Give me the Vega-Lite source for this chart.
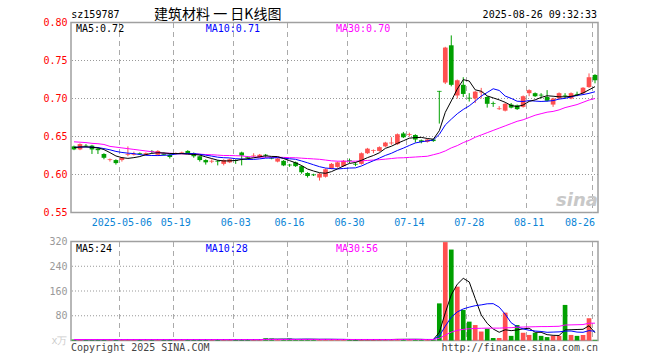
{
  "$schema": "https://vega.github.io/schema/vega-lite/v6.json",
  "background": "white",
  "padding": {"left": 42, "top": 6.5, "right": 63, "bottom": 9},
  "spacing": 29,
  "bounds": "flush",
  "config": {
    "view": {"stroke": "#a0a0a0", "strokeWidth": 1.5},
    "axis": {"labelFont": "DejaVu Sans Mono", "labelFontSize": 10, "ticks": false, "domain": false, "labelAngle": 0},
    "text": {"font": "DejaVu Sans Mono", "fontSize": 10},
    "line": {"strokeWidth": 1}
  },
  "datasets": {
    "k": [
      {"d":"2025-04-21","o":0.637,"h":0.638,"l":0.632,"c":0.633,"v":3,"m5":0.6354,"m10":0.6357,"m30":0.643,"vm5":3,"vm10":3,"vm30":3},
      {"d":"2025-04-22","o":0.633,"h":0.641,"l":0.632,"c":0.640,"v":3,"m5":0.6362,"m10":0.6361,"m30":0.6425,"vm5":3,"vm10":3,"vm30":3},
      {"d":"2025-04-23","o":0.638,"h":0.640,"l":0.636,"c":0.637,"v":2,"m5":0.6364,"m10":0.6362,"m30":0.642,"vm5":3,"vm10":3,"vm30":3},
      {"d":"2025-04-24","o":0.638,"h":0.639,"l":0.627,"c":0.633,"v":3,"m5":0.6358,"m10":0.6359,"m30":0.641,"vm5":3,"vm10":3,"vm30":3},
      {"d":"2025-04-25","o":0.634,"h":0.635,"l":0.627,"c":0.632,"v":2,"m5":0.635,"m10":0.6355,"m30":0.6405,"vm5":3,"vm10":3,"vm30":3},
      {"d":"2025-04-28","o":0.627,"h":0.628,"l":0.620,"c":0.622,"v":3,"m5":0.6328,"m10":0.6341,"m30":0.6395,"vm5":3,"vm10":3,"vm30":3},
      {"d":"2025-04-29","o":0.619,"h":0.621,"l":0.617,"c":0.620,"v":2,"m5":0.6288,"m10":0.6325,"m30":0.637,"vm5":3,"vm10":3,"vm30":3},
      {"d":"2025-04-30","o":0.619,"h":0.620,"l":0.613,"c":0.615,"v":3,"m5":0.6244,"m10":0.6304,"m30":0.636,"vm5":3,"vm10":3,"vm30":3},
      {"d":"2025-05-06","o":0.619,"h":0.623,"l":0.617,"c":0.622,"v":3,"m5":0.6222,"m10":0.629,"m30":0.635,"vm5":3,"vm10":3,"vm30":3},
      {"d":"2025-05-07","o":0.626,"h":0.637,"l":0.624,"c":0.627,"v":4,"m5":0.6212,"m10":0.6281,"m30":0.634,"vm5":3,"vm10":3,"vm30":3},
      {"d":"2025-05-08","o":0.626,"h":0.630,"l":0.625,"c":0.627,"v":2,"m5":0.6222,"m10":0.6275,"m30":0.633,"vm5":3,"vm10":3,"vm30":3},
      {"d":"2025-05-09","o":0.628,"h":0.629,"l":0.626,"c":0.627,"v":2,"m5":0.6236,"m10":0.6262,"m30":0.632,"vm5":3,"vm10":3,"vm30":3},
      {"d":"2025-05-12","o":0.626,"h":0.629,"l":0.626,"c":0.628,"v":2,"m5":0.6262,"m10":0.6253,"m30":0.631,"vm5":3,"vm10":3,"vm30":3},
      {"d":"2025-05-13","o":0.631,"h":0.632,"l":0.628,"c":0.630,"v":2,"m5":0.6278,"m10":0.625,"m30":0.630,"vm5":3,"vm10":3,"vm30":3},
      {"d":"2025-05-14","o":0.626,"h":0.632,"l":0.625,"c":0.631,"v":3,"m5":0.6286,"m10":0.6249,"m30":0.629,"vm5":3,"vm10":3,"vm30":3},
      {"d":"2025-05-15","o":0.628,"h":0.629,"l":0.625,"c":0.626,"v":2,"m5":0.6284,"m10":0.6253,"m30":0.628,"vm5":3,"vm10":3,"vm30":3},
      {"d":"2025-05-16","o":0.626,"h":0.627,"l":0.621,"c":0.623,"v":2,"m5":0.6276,"m10":0.6256,"m30":0.628,"vm5":3,"vm10":3,"vm30":3},
      {"d":"2025-05-19","o":0.627,"h":0.629,"l":0.626,"c":0.628,"v":2,"m5":0.6276,"m10":0.6269,"m30":0.6275,"vm5":3,"vm10":3,"vm30":3},
      {"d":"2025-05-20","o":0.628,"h":0.630,"l":0.627,"c":0.629,"v":2,"m5":0.6274,"m10":0.6276,"m30":0.6272,"vm5":3,"vm10":3,"vm30":3},
      {"d":"2025-05-21","o":0.631,"h":0.632,"l":0.627,"c":0.628,"v":2,"m5":0.6268,"m10":0.6277,"m30":0.627,"vm5":3,"vm10":3,"vm30":3},
      {"d":"2025-05-22","o":0.628,"h":0.629,"l":0.622,"c":0.624,"v":2,"m5":0.6264,"m10":0.6274,"m30":0.627,"vm5":3,"vm10":3,"vm30":3},
      {"d":"2025-05-23","o":0.624,"h":0.625,"l":0.617,"c":0.619,"v":3,"m5":0.6256,"m10":0.6266,"m30":0.6268,"vm5":3,"vm10":3,"vm30":3},
      {"d":"2025-05-26","o":0.619,"h":0.620,"l":0.613,"c":0.616,"v":3,"m5":0.6232,"m10":0.6254,"m30":0.6262,"vm5":3,"vm10":3,"vm30":3},
      {"d":"2025-05-27","o":0.617,"h":0.620,"l":0.615,"c":0.618,"v":2,"m5":0.621,"m10":0.6242,"m30":0.626,"vm5":3,"vm10":3,"vm30":3},
      {"d":"2025-05-28","o":0.618,"h":0.619,"l":0.612,"c":0.617,"v":3,"m5":0.6188,"m10":0.6228,"m30":0.6255,"vm5":3,"vm10":3,"vm30":3},
      {"d":"2025-05-29","o":0.614,"h":0.620,"l":0.612,"c":0.619,"v":3,"m5":0.6178,"m10":0.6221,"m30":0.625,"vm5":3,"vm10":3,"vm30":3},
      {"d":"2025-05-30","o":0.616,"h":0.621,"l":0.615,"c":0.620,"v":3,"m5":0.618,"m10":0.6218,"m30":0.625,"vm5":3,"vm10":3,"vm30":3},
      {"d":"2025-06-03","o":0.619,"h":0.620,"l":0.614,"c":0.618,"v":2,"m5":0.6184,"m10":0.6208,"m30":0.6247,"vm5":3,"vm10":3,"vm30":3},
      {"d":"2025-06-04","o":0.629,"h":0.630,"l":0.612,"c":0.625,"v":4,"m5":0.6198,"m10":0.6204,"m30":0.6245,"vm5":3,"vm10":3,"vm30":3},
      {"d":"2025-06-05","o":0.623,"h":0.624,"l":0.620,"c":0.622,"v":3,"m5":0.6208,"m10":0.6198,"m30":0.6235,"vm5":3,"vm10":3,"vm30":3},
      {"d":"2025-06-06","o":0.624,"h":0.628,"l":0.623,"c":0.625,"v":2,"m5":0.622,"m10":0.6199,"m30":0.623,"vm5":3,"vm10":3,"vm30":3},
      {"d":"2025-06-09","o":0.623,"h":0.627,"l":0.622,"c":0.626,"v":3,"m5":0.6232,"m10":0.6206,"m30":0.6228,"vm5":3,"vm10":3,"vm30":3},
      {"d":"2025-06-10","o":0.626,"h":0.627,"l":0.622,"c":0.625,"v":7,"m5":0.6246,"m10":0.6215,"m30":0.6228,"vm5":3.8,"vm10":3.4,"vm30":3.1},
      {"d":"2025-06-11","o":0.622,"h":0.623,"l":0.620,"c":0.621,"v":6,"m5":0.6238,"m10":0.6218,"m30":0.6228,"vm5":4.2,"vm10":3.6,"vm30":3.2},
      {"d":"2025-06-12","o":0.617,"h":0.622,"l":0.616,"c":0.621,"v":3,"m5":0.6236,"m10":0.6222,"m30":0.6228,"vm5":4.2,"vm10":3.7,"vm30":3.2},
      {"d":"2025-06-13","o":0.618,"h":0.619,"l":0.611,"c":0.612,"v":3,"m5":0.621,"m10":0.6215,"m30":0.6225,"vm5":4.4,"vm10":3.8,"vm30":3.2},
      {"d":"2025-06-16","o":0.613,"h":0.614,"l":0.610,"c":0.612,"v":6,"m5":0.6182,"m10":0.6207,"m30":0.6222,"vm5":4.2,"vm10":4,"vm30":3.3},
      {"d":"2025-06-17","o":0.616,"h":0.617,"l":0.610,"c":0.611,"v":3,"m5":0.6154,"m10":0.62,"m30":0.622,"vm5":3.6,"vm10":3.9,"vm30":3.3},
      {"d":"2025-06-18","o":0.611,"h":0.612,"l":0.601,"c":0.603,"v":4,"m5":0.6118,"m10":0.6178,"m30":0.6215,"vm5":3.8,"vm10":4,"vm30":3.3},
      {"d":"2025-06-19","o":0.602,"h":0.603,"l":0.596,"c":0.598,"v":4,"m5":0.6072,"m10":0.6154,"m30":0.621,"vm5":4,"vm10":4.1,"vm30":3.3},
      {"d":"2025-06-20","o":0.600,"h":0.601,"l":0.598,"c":0.599,"v":3,"m5":0.6046,"m10":0.6128,"m30":0.6205,"vm5":4,"vm10":3.8,"vm30":3.3},
      {"d":"2025-06-23","o":0.596,"h":0.602,"l":0.592,"c":0.601,"v":4,"m5":0.6024,"m10":0.6103,"m30":0.620,"vm5":3.6,"vm10":3.8,"vm30":3.3},
      {"d":"2025-06-24","o":0.597,"h":0.608,"l":0.596,"c":0.607,"v":4,"m5":0.6016,"m10":0.6085,"m30":0.619,"vm5":3.8,"vm10":3.7,"vm30":3.3},
      {"d":"2025-06-25","o":0.608,"h":0.615,"l":0.607,"c":0.614,"v":3,"m5":0.6038,"m10":0.6078,"m30":0.618,"vm5":3.6,"vm10":3.8,"vm30":3.3},
      {"d":"2025-06-26","o":0.610,"h":0.617,"l":0.609,"c":0.616,"v":3,"m5":0.6074,"m10":0.6073,"m30":0.6175,"vm5":3.4,"vm10":3.7,"vm30":3.3},
      {"d":"2025-06-27","o":0.611,"h":0.619,"l":0.610,"c":0.618,"v":3,"m5":0.6112,"m10":0.6079,"m30":0.6175,"vm5":3.4,"vm10":3.5,"vm30":3.3},
      {"d":"2025-06-30","o":0.619,"h":0.621,"l":0.615,"c":0.618,"v":2,"m5":0.6146,"m10":0.6085,"m30":0.6175,"vm5":3,"vm10":3.3,"vm30":3.3},
      {"d":"2025-07-01","o":0.614,"h":0.616,"l":0.611,"c":0.613,"v":2,"m5":0.6158,"m10":0.6087,"m30":0.6175,"vm5":2.6,"vm10":3.1,"vm30":3.3},
      {"d":"2025-07-02","o":0.614,"h":0.629,"l":0.613,"c":0.628,"v":4,"m5":0.6186,"m10":0.6112,"m30":0.618,"vm5":2.8,"vm10":3.1,"vm30":3.3},
      {"d":"2025-07-03","o":0.628,"h":0.635,"l":0.627,"c":0.634,"v":3,"m5":0.6222,"m10":0.6148,"m30":0.6185,"vm5":2.8,"vm10":3.1,"vm30":3.3},
      {"d":"2025-07-04","o":0.631,"h":0.633,"l":0.628,"c":0.632,"v":3,"m5":0.625,"m10":0.6181,"m30":0.619,"vm5":2.8,"vm10":3.1,"vm30":3.3},
      {"d":"2025-07-07","o":0.631,"h":0.637,"l":0.630,"c":0.636,"v":3,"m5":0.6286,"m10":0.6216,"m30":0.6195,"vm5":3,"vm10":3,"vm30":3.3},
      {"d":"2025-07-08","o":0.637,"h":0.643,"l":0.636,"c":0.642,"v":3,"m5":0.6344,"m10":0.6251,"m30":0.6202,"vm5":3.2,"vm10":2.9,"vm30":3.3},
      {"d":"2025-07-09","o":0.641,"h":0.649,"l":0.639,"c":0.642,"v":4,"m5":0.6372,"m10":0.6279,"m30":0.621,"vm5":3.2,"vm10":3,"vm30":3.3},
      {"d":"2025-07-10","o":0.640,"h":0.654,"l":0.639,"c":0.653,"v":5,"m5":0.641,"m10":0.6316,"m30":0.6218,"vm5":3.6,"vm10":3.2,"vm30":3.3},
      {"d":"2025-07-11","o":0.654,"h":0.656,"l":0.648,"c":0.649,"v":4,"m5":0.6444,"m10":0.6347,"m30":0.622,"vm5":3.8,"vm10":3.3,"vm30":3.3},
      {"d":"2025-07-14","o":0.652,"h":0.655,"l":0.650,"c":0.653,"v":3,"m5":0.6478,"m10":0.6382,"m30":0.6225,"vm5":3.8,"vm10":3.4,"vm30":3.3},
      {"d":"2025-07-15","o":0.652,"h":0.653,"l":0.642,"c":0.646,"v":3,"m5":0.6486,"m10":0.6415,"m30":0.623,"vm5":3.8,"vm10":3.5,"vm30":3.3},
      {"d":"2025-07-16","o":0.645,"h":0.646,"l":0.641,"c":0.643,"v":3,"m5":0.6488,"m10":0.643,"m30":0.6235,"vm5":3.6,"vm10":3.4,"vm30":3.3},
      {"d":"2025-07-17","o":0.643,"h":0.647,"l":0.642,"c":0.646,"v":2,"m5":0.6474,"m10":0.6442,"m30":0.624,"vm5":3,"vm10":3.3,"vm30":3.3},
      {"d":"2025-07-18","o":0.646,"h":0.647,"l":0.643,"c":0.644,"v":3,"m5":0.6464,"m10":0.6454,"m30":0.626,"vm5":2.8,"vm10":3.3,"vm30":3.3},
      {"d":"2025-07-21","o":0.710,"h":0.710,"l":0.667,"c":0.709,"v":120,"m5":0.6576,"m10":0.6527,"m30":0.628,"vm5":26.4,"vm10":14.7,"vm30":6.9},
      {"d":"2025-07-22","o":0.721,"h":0.768,"l":0.719,"c":0.767,"v":318,"m5":0.6818,"m10":0.6652,"m30":0.631,"vm5":89.4,"vm10":46.2,"vm30":17.4},
      {"d":"2025-07-23","o":0.770,"h":0.783,"l":0.716,"c":0.718,"v":294,"m5":0.6968,"m10":0.6728,"m30":0.635,"vm5":147.6,"vm10":75.3,"vm30":27.1},
      {"d":"2025-07-24","o":0.704,"h":0.725,"l":0.700,"c":0.724,"v":174,"m5":0.7124,"m10":0.6799,"m30":0.638,"vm5":181.8,"vm10":92.4,"vm30":32.8},
      {"d":"2025-07-25","o":0.718,"h":0.728,"l":0.702,"c":0.706,"v":99,"m5":0.7248,"m10":0.6856,"m30":0.642,"vm5":201,"vm10":102,"vm30":36},
      {"d":"2025-07-28","o":0.701,"h":0.707,"l":0.696,"c":0.700,"v":61,"m5":0.723,"m10":0.6903,"m30":0.645,"vm5":189.2,"vm10":107.8,"vm30":37.9},
      {"d":"2025-07-29","o":0.700,"h":0.710,"l":0.694,"c":0.709,"v":50,"m5":0.7114,"m10":0.6966,"m30":0.649,"vm5":135.6,"vm10":112.5,"vm30":39},
      {"d":"2025-07-30","o":0.708,"h":0.714,"l":0.700,"c":0.709,"v":29,"m5":0.7096,"m10":0.7032,"m30":0.652,"vm5":82.6,"vm10":115.1,"vm30":39.5},
      {"d":"2025-07-31","o":0.702,"h":0.703,"l":0.688,"c":0.693,"v":38,"m5":0.7034,"m10":0.7079,"m30":0.655,"vm5":55.4,"vm10":118.6,"vm30":40},
      {"d":"2025-08-01","o":0.694,"h":0.696,"l":0.689,"c":0.693,"v":8,"m5":0.7008,"m10":0.7128,"m30":0.658,"vm5":37.2,"vm10":119.1,"vm30":40},
      {"d":"2025-08-04","o":0.686,"h":0.690,"l":0.685,"c":0.687,"v":8,"m5":0.6982,"m10":0.7106,"m30":0.661,"vm5":26.6,"vm10":107.9,"vm30":40},
      {"d":"2025-08-05","o":0.684,"h":0.694,"l":0.683,"c":0.693,"v":90,"m5":0.695,"m10":0.7032,"m30":0.664,"vm5":34.6,"vm10":85.1,"vm30":41},
      {"d":"2025-08-06","o":0.692,"h":0.694,"l":0.687,"c":0.688,"v":15,"m5":0.6908,"m10":0.7002,"m30":0.667,"vm5":31.8,"vm10":57.2,"vm30":41.5},
      {"d":"2025-08-07","o":0.691,"h":0.692,"l":0.685,"c":0.686,"v":50,"m5":0.6894,"m10":0.6964,"m30":0.670,"vm5":34.2,"vm10":44.8,"vm30":43},
      {"d":"2025-08-08","o":0.689,"h":0.704,"l":0.688,"c":0.703,"v":25,"m5":0.6914,"m10":0.6961,"m30":0.672,"vm5":37.6,"vm10":37.4,"vm30":43.5},
      {"d":"2025-08-11","o":0.707,"h":0.712,"l":0.703,"c":0.711,"v":18,"m5":0.6962,"m10":0.6972,"m30":0.675,"vm5":39.6,"vm10":33.1,"vm30":44},
      {"d":"2025-08-12","o":0.707,"h":0.708,"l":0.702,"c":0.703,"v":25,"m5":0.6982,"m10":0.6966,"m30":0.678,"vm5":26.6,"vm10":30.6,"vm30":44.5},
      {"d":"2025-08-13","o":0.705,"h":0.707,"l":0.700,"c":0.704,"v":15,"m5":0.7014,"m10":0.6961,"m30":0.680,"vm5":26.6,"vm10":29.2,"vm30":45},
      {"d":"2025-08-14","o":0.702,"h":0.711,"l":0.696,"c":0.697,"v":11,"m5":0.7036,"m10":0.6965,"m30":0.682,"vm5":18.8,"vm10":26.5,"vm30":45},
      {"d":"2025-08-15","o":0.692,"h":0.701,"l":0.689,"c":0.700,"v":15,"m5":0.703,"m10":0.6972,"m30":0.683,"vm5":16.8,"vm10":27.2,"vm30":45.5},
      {"d":"2025-08-18","o":0.700,"h":0.708,"l":0.699,"c":0.707,"v":15,"m5":0.7022,"m10":0.6992,"m30":0.685,"vm5":16.2,"vm10":27.9,"vm30":46},
      {"d":"2025-08-19","o":0.704,"h":0.707,"l":0.700,"c":0.703,"v":115,"m5":0.7022,"m10":0.7002,"m30":0.688,"vm5":34.2,"vm10":30.4,"vm30":50},
      {"d":"2025-08-20","o":0.700,"h":0.708,"l":0.699,"c":0.707,"v":18,"m5":0.7028,"m10":0.7021,"m30":0.690,"vm5":34.8,"vm10":30.7,"vm30":50.5},
      {"d":"2025-08-21","o":0.706,"h":0.709,"l":0.703,"c":0.705,"v":15,"m5":0.7044,"m10":0.704,"m30":0.692,"vm5":35.6,"vm10":27.2,"vm30":51},
      {"d":"2025-08-22","o":0.707,"h":0.715,"l":0.706,"c":0.714,"v":18,"m5":0.7072,"m10":0.7051,"m30":0.695,"vm5":36.2,"vm10":26.5,"vm30":51.5},
      {"d":"2025-08-25","o":0.715,"h":0.733,"l":0.714,"c":0.728,"v":72,"m5":0.7114,"m10":0.7068,"m30":0.698,"vm5":47.6,"vm10":31.9,"vm30":56},
      {"d":"2025-08-26","o":0.731,"h":0.732,"l":0.720,"c":0.724,"v":2,"m5":0.7156,"m10":0.7089,"m30":0.700,"vm5":25,"vm10":29.6,"vm30":56}
    ]
  },
  "vconcat": [
    {
      "width": 527,
      "height": 190,
      "data": {"name": "k"},
      "resolve": {"axis": {"x": "independent", "y": "independent"}},
      "layer": [
        {
          "data": {"values": [{}]},
          "mark": {"type": "rule", "color": "#999999", "strokeDash": [1, 2], "strokeWidth": 1},
          "encoding": {"y": {"datum": 0.6, "type": "quantitative", "axis": null, "scale": {"domain": [0.55, 0.80], "nice": false, "zero": false}}}
        },
        {
          "data": {"values": [{}]},
          "mark": {"type": "rule", "color": "#999999", "strokeDash": [1, 2], "strokeWidth": 1},
          "encoding": {"y": {"datum": 0.65, "type": "quantitative", "axis": null, "scale": {"domain": [0.55, 0.80], "nice": false, "zero": false}}}
        },
        {
          "data": {"values": [{}]},
          "mark": {"type": "rule", "color": "#999999", "strokeDash": [1, 2], "strokeWidth": 1},
          "encoding": {"y": {"datum": 0.7, "type": "quantitative", "axis": null, "scale": {"domain": [0.55, 0.80], "nice": false, "zero": false}}}
        },
        {
          "data": {"values": [{}]},
          "mark": {"type": "rule", "color": "#999999", "strokeDash": [1, 2], "strokeWidth": 1},
          "encoding": {"y": {"datum": 0.75, "type": "quantitative", "axis": null, "scale": {"domain": [0.55, 0.80], "nice": false, "zero": false}}}
        },
        {
          "mark": {"type": "rule", "strokeWidth": 1},
          "encoding": {
            "x": {
              "field": "d",
              "type": "ordinal",
              "scale": {"type": "band", "paddingInner": 0, "paddingOuter": 0},
              "axis": {
                "title": null,
                "values": ["2025-05-06","2025-05-19","2025-06-03","2025-06-16","2025-06-30","2025-07-14","2025-07-28","2025-08-11","2025-08-26"],
                "labelExpr": "datum.value == '2025-05-06' ? datum.value : slice(datum.value, 5)",
                "bandPosition": 0.1,
                "grid": true,
                "gridColor": "#aaaaaa",
                "gridDash": [5, 4],
                "gridWidth": 1,
                "labelColor": "#0b85d6",
                "labelPadding": 5,
                "labelFlush": 12,
                "labelOverlap": false
              }
            },
            "y": {
              "field": "l",
              "type": "quantitative",
              "scale": {"domain": [0.55, 0.80], "nice": false, "zero": false},
              "axis": {
                "title": null,
                "values": [0.55, 0.6, 0.65, 0.7, 0.75, 0.8],
                "format": ".2f",
                "labelColor": "#ff0000",
                "labelPadding": 4,
                "labelOverlap": false,
                "grid": false
              }
            },
            "y2": {"field": "h"},
            "color": {"condition": {"test": "datum.c >= datum.o", "value": "#ff5050"}, "value": "#00a000"}
          }
        },
        {
          "mark": {"type": "bar", "width": {"band": 0.78}},
          "encoding": {
            "x": {"field": "d", "type": "ordinal", "axis": null, "scale": {"type": "band", "paddingInner": 0, "paddingOuter": 0}},
            "y": {"field": "o", "type": "quantitative", "axis": null, "scale": {"domain": [0.55, 0.80], "nice": false, "zero": false}},
            "y2": {"field": "c"},
            "color": {"condition": {"test": "datum.c >= datum.o", "value": "#ff5050"}, "value": "#00a000"}
          }
        },
        {
          "mark": {"type": "line", "color": "#ff00ff", "strokeWidth": 1},
          "encoding": {
            "x": {"field": "d", "type": "ordinal", "axis": null, "scale": {"type": "band", "paddingInner": 0, "paddingOuter": 0}},
            "y": {"field": "m30", "type": "quantitative", "axis": null, "scale": {"domain": [0.55, 0.80], "nice": false, "zero": false}}
          }
        },
        {
          "mark": {"type": "line", "color": "#0000ff", "strokeWidth": 1},
          "encoding": {
            "x": {"field": "d", "type": "ordinal", "axis": null, "scale": {"type": "band", "paddingInner": 0, "paddingOuter": 0}},
            "y": {"field": "m10", "type": "quantitative", "axis": null, "scale": {"domain": [0.55, 0.80], "nice": false, "zero": false}}
          }
        },
        {
          "mark": {"type": "line", "color": "#000000", "strokeWidth": 1},
          "encoding": {
            "x": {"field": "d", "type": "ordinal", "axis": null, "scale": {"type": "band", "paddingInner": 0, "paddingOuter": 0}},
            "y": {"field": "m5", "type": "quantitative", "axis": null, "scale": {"domain": [0.55, 0.80], "nice": false, "zero": false}}
          }
        },
        {
          "data": {"values": [{}]},
          "mark": {"type": "text", "text": "sz159787", "align": "left", "baseline": "top", "dx": -2.7, "color": "#000000"},
          "encoding": {
            "x": {"datum": "2025-04-21", "type": "ordinal", "axis": null},
            "y": {"datum": 0.8161, "type": "quantitative", "axis": null, "scale": {"domain": [0.55, 0.80], "nice": false, "zero": false}}
          }
        },
        {
          "data": {"values": [{}]},
          "mark": {"type": "text", "text": "建筑材料 一 日K线图", "align": "center", "baseline": "top", "font": "Noto Sans CJK SC", "fontSize": 14, "color": "#000000"},
          "encoding": {
            "x": {"datum": "2025-05-28", "type": "ordinal", "axis": null},
            "y": {"datum": 0.8191, "type": "quantitative", "axis": null, "scale": {"domain": [0.55, 0.80], "nice": false, "zero": false}}
          }
        },
        {
          "data": {"values": [{}]},
          "mark": {"type": "text", "text": "2025-08-26 09:32:33", "align": "right", "baseline": "top", "dx": 2, "color": "#000000"},
          "encoding": {
            "x": {"datum": "2025-08-26", "type": "ordinal", "axis": null},
            "y": {"datum": 0.8161, "type": "quantitative", "axis": null, "scale": {"domain": [0.55, 0.80], "nice": false, "zero": false}}
          }
        },
        {
          "data": {"values": [{}]},
          "mark": {"type": "text", "text": "MA5:0.72", "align": "left", "baseline": "top", "dx": 2, "color": "#000000"},
          "encoding": {
            "x": {"datum": "2025-04-21", "type": "ordinal", "axis": null},
            "y": {"datum": 0.7976, "type": "quantitative", "axis": null, "scale": {"domain": [0.55, 0.80], "nice": false, "zero": false}}
          }
        },
        {
          "data": {"values": [{}]},
          "mark": {"type": "text", "text": "MA10:0.71", "align": "left", "baseline": "top", "color": "#0000ff"},
          "encoding": {
            "x": {"datum": "2025-05-26", "type": "ordinal", "axis": null},
            "y": {"datum": 0.7976, "type": "quantitative", "axis": null, "scale": {"domain": [0.55, 0.80], "nice": false, "zero": false}}
          }
        },
        {
          "data": {"values": [{}]},
          "mark": {"type": "text", "text": "MA30:0.70", "align": "left", "baseline": "top", "dx": -1.5, "color": "#ff00ff"},
          "encoding": {
            "x": {"datum": "2025-06-26", "type": "ordinal", "axis": null},
            "y": {"datum": 0.7976, "type": "quantitative", "axis": null, "scale": {"domain": [0.55, 0.80], "nice": false, "zero": false}}
          }
        },
        {
          "data": {"values": [{}]},
          "mark": {"type": "text", "text": "sina", "align": "center", "baseline": "alphabetic", "font": "DejaVu Sans", "fontSize": 18, "fontWeight": "bold", "fontStyle": "italic", "color": "#c8c8c8"},
          "encoding": {
            "x": {"datum": "2025-08-21", "type": "ordinal", "axis": null},
            "y": {"datum": 0.5592, "type": "quantitative", "axis": null, "scale": {"domain": [0.55, 0.80], "nice": false, "zero": false}}
          }
        }
      ]
    },
    {
      "width": 527,
      "height": 99,
      "data": {"name": "k"},
      "resolve": {"axis": {"x": "independent", "y": "independent"}},
      "layer": [
        {
          "data": {"values": [{}]},
          "mark": {"type": "rule", "color": "#999999", "strokeDash": [1, 2], "strokeWidth": 1},
          "encoding": {"y": {"datum": 80, "type": "quantitative", "axis": null, "scale": {"domain": [0, 320], "nice": false}}}
        },
        {
          "data": {"values": [{}]},
          "mark": {"type": "rule", "color": "#999999", "strokeDash": [1, 2], "strokeWidth": 1},
          "encoding": {"y": {"datum": 160, "type": "quantitative", "axis": null, "scale": {"domain": [0, 320], "nice": false}}}
        },
        {
          "data": {"values": [{}]},
          "mark": {"type": "rule", "color": "#999999", "strokeDash": [1, 2], "strokeWidth": 1},
          "encoding": {"y": {"datum": 240, "type": "quantitative", "axis": null, "scale": {"domain": [0, 320], "nice": false}}}
        },
        {
          "mark": {"type": "bar", "width": {"band": 0.78}},
          "encoding": {
            "x": {
              "field": "d",
              "type": "ordinal",
              "scale": {"type": "band", "paddingInner": 0, "paddingOuter": 0},
              "axis": {
                "title": null,
                "values": ["2025-05-06","2025-05-19","2025-06-03","2025-06-16","2025-06-30","2025-07-14","2025-07-28","2025-08-11","2025-08-26"],
                "bandPosition": 0.1,
                "labels": false,
                "grid": true,
                "gridColor": "#aaaaaa",
                "gridDash": [5, 4],
                "gridWidth": 1
              }
            },
            "y": {
              "field": "v",
              "type": "quantitative",
              "scale": {"domain": [0, 320], "nice": false},
              "axis": {
                "title": null,
                "values": [0, 80, 160, 240, 320],
                "labelExpr": "datum.value == 0 ? 'x万' : datum.label",
                "labelColor": {"condition": {"test": "datum.value == 0", "value": "#cccccc"}, "value": "#999999"},
                "labelPadding": 4,
                "labelOverlap": false,
                "grid": false
              }
            },
            "color": {"condition": {"test": "datum.c >= datum.o", "value": "#ff5050"}, "value": "#00a000"}
          }
        },
        {
          "mark": {"type": "line", "color": "#000000", "strokeWidth": 1},
          "encoding": {
            "x": {"field": "d", "type": "ordinal", "axis": null, "scale": {"type": "band", "paddingInner": 0, "paddingOuter": 0}},
            "y": {"field": "vm5", "type": "quantitative", "axis": null, "scale": {"domain": [0, 320], "nice": false}}
          }
        },
        {
          "mark": {"type": "line", "color": "#0000ff", "strokeWidth": 1},
          "encoding": {
            "x": {"field": "d", "type": "ordinal", "axis": null, "scale": {"type": "band", "paddingInner": 0, "paddingOuter": 0}},
            "y": {"field": "vm10", "type": "quantitative", "axis": null, "scale": {"domain": [0, 320], "nice": false}}
          }
        },
        {
          "mark": {"type": "line", "color": "#ff00ff", "strokeWidth": 1},
          "encoding": {
            "x": {"field": "d", "type": "ordinal", "axis": null, "scale": {"type": "band", "paddingInner": 0, "paddingOuter": 0}},
            "y": {"field": "vm30", "type": "quantitative", "axis": null, "scale": {"domain": [0, 320], "nice": false}}
          }
        },
        {
          "data": {"values": [{}]},
          "mark": {"type": "text", "text": "MA5:24", "align": "left", "baseline": "top", "dx": 2, "color": "#000000"},
          "encoding": {
            "x": {"datum": "2025-04-21", "type": "ordinal", "axis": null},
            "y": {"datum": 313.2, "type": "quantitative", "axis": null, "scale": {"domain": [0, 320], "nice": false}}
          }
        },
        {
          "data": {"values": [{}]},
          "mark": {"type": "text", "text": "MA10:28", "align": "left", "baseline": "top", "color": "#0000ff"},
          "encoding": {
            "x": {"datum": "2025-05-26", "type": "ordinal", "axis": null},
            "y": {"datum": 313.2, "type": "quantitative", "axis": null, "scale": {"domain": [0, 320], "nice": false}}
          }
        },
        {
          "data": {"values": [{}]},
          "mark": {"type": "text", "text": "MA30:56", "align": "left", "baseline": "top", "dx": -1.5, "color": "#ff00ff"},
          "encoding": {
            "x": {"datum": "2025-06-26", "type": "ordinal", "axis": null},
            "y": {"datum": 313.2, "type": "quantitative", "axis": null, "scale": {"domain": [0, 320], "nice": false}}
          }
        },
        {
          "data": {"values": [{}]},
          "mark": {"type": "text", "text": "Copyright 2025 SINA.COM", "align": "left", "baseline": "top", "dx": -3, "color": "#444444"},
          "encoding": {
            "x": {"datum": "2025-04-21", "type": "ordinal", "axis": null},
            "y": {"datum": -7.8, "type": "quantitative", "axis": null, "scale": {"domain": [0, 320], "nice": false}}
          }
        },
        {
          "data": {"values": [{}]},
          "mark": {"type": "text", "text": "http://finance.sina.com.cn", "align": "right", "baseline": "top", "dx": 3, "color": "#444444"},
          "encoding": {
            "x": {"datum": "2025-08-26", "type": "ordinal", "axis": null},
            "y": {"datum": -7.8, "type": "quantitative", "axis": null, "scale": {"domain": [0, 320], "nice": false}}
          }
        }
      ]
    }
  ]
}
